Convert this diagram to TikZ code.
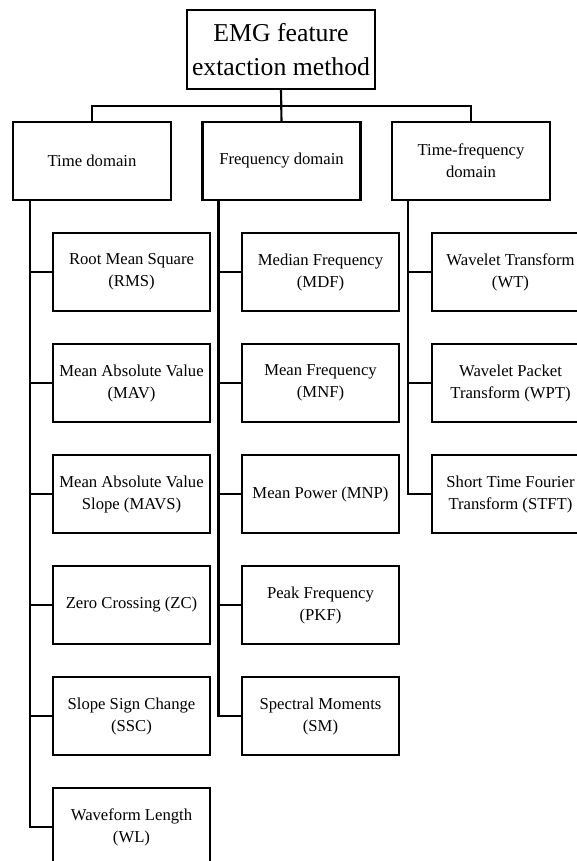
\documentclass[tikz,border=0pt]{standalone}
\usepackage{fontspec}
\setmainfont{Liberation Serif}
\usetikzlibrary{calc}
\begin{document}
\begin{tikzpicture}[x=0.75pt,y=-0.75pt,line width=1.6pt,
  box/.style={draw,rectangle,inner sep=0pt,outer sep=0pt,align=center,
    minimum width=117.75pt,minimum height=58.5pt,
    font=\fontsize{12.5}{16.5}\selectfont},
  dombox/.style={box,minimum width=118.5pt},
  topbox/.style={box,minimum width=141pt,minimum height=59.25pt,
    font=\fontsize{19.3}{25.5}\selectfont},
  conn/.style={draw,line width=1.6pt}]
\useasboundingbox (0,0) rectangle (577,861);
\clip (0,0) rectangle (577,861);
\fill[white] (0,0) rectangle (577,861);

\node[topbox] (top) at (281,49.5) {EMG feature\\extaction method};

\node[dombox] (time) at (92,161) {Time domain};
\node[dombox] (freq) at (281.5,161) {Frequency domain};
\node[dombox] (tf) at (471,161) {Time-frequency\\domain};

% time-domain children
\node[box] (rms) at (131.5,272) {Root Mean Square\\(RMS)};
\node[box] (mav) at (131.5,383) {Mean Absolute Value\\(MAV)};
\node[box] (mavs) at (131.5,494) {Mean Absolute Value\\Slope (MAVS)};
\node[box] (zc) at (131.5,605) {Zero Crossing (ZC)};
\node[box] (ssc) at (131.5,716) {Slope Sign Change\\(SSC)};
\node[box] (wl) at (131.5,827) {Waveform Length\\(WL)};

% frequency-domain children
\node[box] (mdf) at (320.5,272) {Median Frequency\\(MDF)};
\node[box] (mnf) at (320.5,383) {Mean Frequency\\(MNF)};
\node[box] (mnp) at (320.5,494) {Mean Power (MNP)};
\node[box] (pkf) at (320.5,605) {Peak Frequency\\(PKF)};
\node[box] (sm) at (320.5,716) {Spectral Moments\\(SM)};

% time-frequency children
\node[box] (wt) at (510.5,272) {Wavelet Transform\\(WT)};
\node[box] (wpt) at (510.5,383) {Wavelet Packet\\Transform (WPT)};
\node[box] (stft) at (510.5,494) {Short Time Fourier\\Transform (STFT)};

% top-level connectors
\draw[conn] (top.south) -- (freq.north);
\draw[conn] (time.north) -- ++(0,-16) -| (tf.north);

% trunks
\draw[conn] ($(time.south west)+(17,0)$) |- (wl.west);
\foreach \c in {rms,mav,mavs,zc,ssc} \draw[conn] (\c.west) -- ++(-23,0);

\draw[conn] ($(freq.south west)+(16,0)$) |- (sm.west);
\foreach \c in {mdf,mnf,mnp,pkf} \draw[conn] (\c.west) -- ++(-23,0);

\draw[conn] ($(tf.south west)+(16,0)$) |- (stft.west);
\foreach \c in {wt,wpt} \draw[conn] (\c.west) -- ++(-24,0);
\end{tikzpicture}
\end{document}
